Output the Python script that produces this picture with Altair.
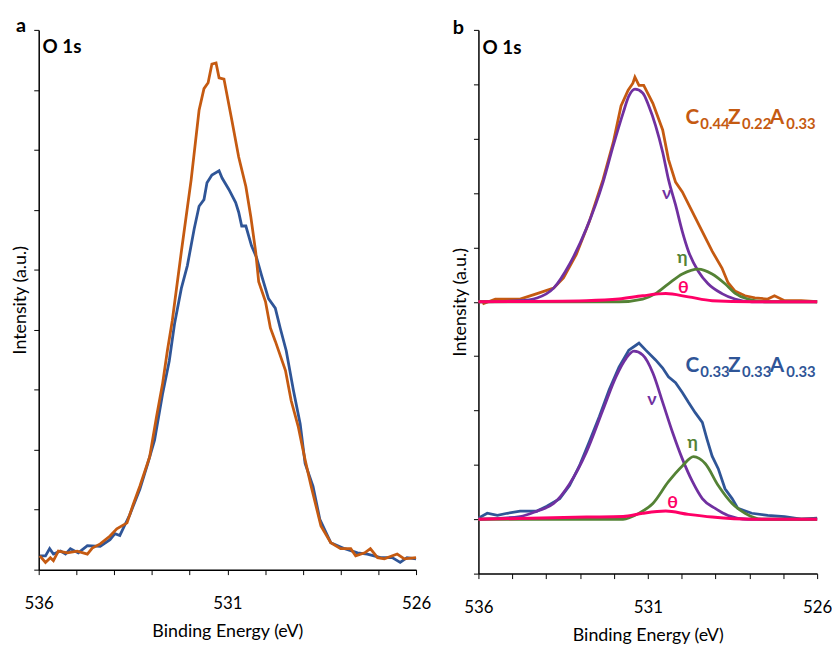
import altair as alt
import pandas as pd

# ---------------- data ----------------
# Panel a
a_orange_E = [535.97, 535.82, 535.69, 535.61, 535.48, 535.24, 534.98, 534.71, 534.58, 534.37, 534.11, 533.93, 533.66,
              533.51, 533.32, 533.06, 532.88, 532.72, 532.59, 532.46, 532.22, 531.96, 531.75, 531.62, 531.51, 531.41,
              531.30, 531.22, 531.09, 530.88, 530.70, 530.51, 530.38, 530.25, 530.17, 529.99, 529.86, 529.73, 529.46,
              529.31, 529.12, 528.94, 528.78, 528.52, 528.26, 528.0, 527.73, 527.60, 527.36, 527.21, 527.02, 526.84,
              526.5, 526.31, 526.0]
a_orange_I = [0.23, 0.12, 0.20, 0.15, 0.31, 0.28, 0.31, 0.26, 0.36, 0.43, 0.56, 0.68, 0.78,
              1.06, 1.39, 1.88, 2.54, 3.09, 3.65, 4.15, 5.30, 6.50, 7.66, 8.02, 8.12, 8.43,
              8.45, 8.20, 8.18, 7.49, 6.88, 6.39, 5.89, 5.30, 4.80, 4.47, 4.03, 3.81, 3.32,
              2.82, 2.38, 1.83, 1.39, 0.73, 0.45, 0.35, 0.35, 0.23, 0.28, 0.35, 0.20, 0.18,
              0.26, 0.18, 0.20]

a_blue_E = [535.97, 535.82, 535.71, 535.61, 535.42, 535.29, 535.16, 534.95, 534.71, 534.37, 534.11, 533.98, 533.85,
            533.72, 533.59, 533.32, 533.11, 532.93, 532.72, 532.54, 532.40, 532.22, 532.06, 531.88, 531.75, 531.62,
            531.54, 531.41, 531.22, 531.14, 530.96, 530.78, 530.70, 530.62, 530.51, 530.36, 530.23, 530.09, 529.91,
            529.73, 529.60, 529.44, 529.25, 529.07, 528.94, 528.73, 528.55, 528.26, 527.89, 527.55, 527.29, 526.94,
            526.63, 526.42, 526.24, 526.0]
a_blue_I = [0.23, 0.23, 0.35, 0.26, 0.31, 0.26, 0.35, 0.28, 0.40, 0.39, 0.50, 0.60, 0.57,
            0.74, 0.91, 1.34, 1.77, 2.16, 2.92, 3.48, 4.10, 4.69, 5.07, 5.68, 6.06, 6.17,
            6.45, 6.58, 6.65, 6.53, 6.34, 6.12, 5.96, 5.73, 5.73, 5.40, 5.21, 4.90, 4.52,
            4.36, 4.03, 3.65, 2.99, 2.43, 1.77, 1.39, 0.84, 0.45, 0.35, 0.28, 0.26, 0.20,
            0.20, 0.12, 0.20, 0.18]

# Panel b, upper spectrum (C0.44Z0.22A0.33)
b_orange_E = [535.88, 535.50, 534.77, 534.27, 533.78, 533.49, 533.11, 532.73, 532.32, 532.02, 531.79, 531.58,
              531.44, 531.38, 531.26, 531.12, 530.85, 530.56, 530.39, 530.18, 529.98, 529.68, 529.39, 529.10,
              528.81, 528.63, 528.43, 528.13, 527.84, 527.46, 527.26, 526.96, 526.47, 526.0]
b_orange_I = [4.96, 5.05, 5.05, 5.15, 5.25, 5.44, 5.87, 6.47, 7.25, 7.93, 8.60, 8.89,
              9.02, 9.13, 8.98, 8.98, 8.65, 8.16, 7.62, 7.20, 7.02, 6.65, 6.29, 5.93,
              5.62, 5.35, 5.20, 5.11, 5.07, 5.05, 5.11, 5.02, 5.02, 5.0]
top_v_E = [536.0, 534.77, 534.27, 533.78, 533.31, 532.81, 532.32, 532.02, 531.73, 531.56, 531.38, 531.15, 530.97,
           530.77, 530.56, 530.39, 530.18, 529.98, 529.80, 529.51, 529.22, 528.81, 528.43, 527.93, 526.0]
top_v_I = [5.0, 5.02, 5.07, 5.25, 5.69, 6.35, 7.20, 7.87, 8.47, 8.78, 8.91, 8.84, 8.60,
           8.24, 7.75, 7.25, 6.78, 6.29, 5.93, 5.56, 5.33, 5.15, 5.05, 5.0, 5.0]
top_eta_E = [536.0, 531.85, 531.15, 530.77, 530.39, 529.98, 529.51, 529.10, 528.72, 528.43, 528.05, 527.46, 526.0]
top_eta_I = [5.0, 5.0, 5.05, 5.15, 5.33, 5.51, 5.60, 5.51, 5.33, 5.16, 5.05, 5.0, 5.0]
top_theta_E = [536.0, 532.81, 531.85, 531.15, 530.47, 529.80, 529.10, 527.93, 526.0]
top_theta_I = [5.0, 5.02, 5.05, 5.11, 5.15, 5.09, 5.02, 5.0, 5.0]

# Panel b, lower spectrum (C0.33Z0.33A0.33)
b_blue_E = [536.0, 535.74, 535.44, 535.15, 534.77, 534.27, 533.98, 533.60, 533.31, 533.02, 532.73, 532.43,
            532.14, 531.85, 531.56, 531.35, 531.26, 531.06, 530.77, 530.56, 530.39, 530.18, 529.98, 529.80,
            529.60, 529.39, 529.25, 529.10, 528.92, 528.72, 528.51, 528.34, 527.93, 527.46, 526.96, 526.47, 526.0]
b_blue_I = [1.02, 1.11, 1.07, 1.11, 1.15, 1.15, 1.24, 1.38, 1.62, 1.98, 2.42, 2.89,
            3.38, 3.80, 4.11, 4.20, 4.24, 4.11, 3.93, 3.78, 3.62, 3.51, 3.33, 3.15,
            2.96, 2.78, 2.47, 2.16, 1.93, 1.56, 1.38, 1.20, 1.11, 1.07, 1.05, 1.0, 1.02]
bot_v_E = [536.0, 534.77, 534.27, 533.78, 533.31, 532.81, 532.32, 531.94, 531.64, 531.41, 531.15, 530.85, 530.56,
           530.27, 529.98, 529.68, 529.39, 529.01, 528.63, 528.05, 526.0]
bot_v_I = [1.0, 1.05, 1.15, 1.29, 1.65, 2.24, 3.02, 3.62, 3.96, 4.09, 4.02, 3.69, 3.15,
           2.60, 2.11, 1.69, 1.38, 1.20, 1.07, 1.0, 1.0]
bot_eta_E = [536.0, 531.73, 531.26, 530.85, 530.39, 529.98, 529.65, 529.30, 528.92, 528.51, 528.13, 527.64, 526.0]
bot_eta_I = [1.0, 1.0, 1.11, 1.29, 1.69, 1.98, 2.15, 2.02, 1.62, 1.29, 1.11, 1.0, 1.0]
bot_theta_E = [536.0, 532.81, 531.73, 531.15, 530.47, 529.80, 529.10, 527.93, 526.0]
bot_theta_I = [1.0, 1.04, 1.05, 1.11, 1.15, 1.09, 1.04, 1.0, 1.0]

# annotation text
comp_top_parts = ["C", "0.44", "Z", "0.22", "A", "0.33"]
comp_bot_parts = ["C", "0.33", "Z", "0.33", "A", "0.33"]
comp_part_E = [529.89, 529.45, 528.63, 528.22, 527.40, 526.91]
comp_part_size = [21, 15, 21, 15, 21, 15]
comp_top_base = [8.27, 8.18, 8.27, 8.18, 8.27, 8.18]
comp_bot_base = [3.71, 3.62, 3.71, 3.62, 3.71, 3.62]

greek_text = ["ν", "η", "θ", "ν", "η", "θ"]
greek_E = [530.44, 529.98, 529.95, 530.88, 529.68, 530.27]
greek_I = [6.89, 5.71, 5.16, 3.11, 2.31, 1.20]

ORANGE = "#C55A11"
BLUE = "#2F5597"
PURPLE = "#7030A0"
GREEN = "#548235"
PINK = "#FF0066"
FONT = "Lato"

# ---------------- helpers ----------------
xscale = alt.Scale(domain=[526, 536], reverse=True, nice=False, zero=False)


def xaxis():
    return alt.Axis(values=list(range(526, 537)),
                    labelExpr="datum.value % 5 == 1 ? datum.label : ''",
                    labelFlush=False, labelOverlap=False, grid=False,
                    tickSize=5, tickColor="black", domainColor="black", domainWidth=1.5,
                    labelFontSize=17, labelPadding=21, labelColor="black", labelFont=FONT,
                    title="Binding Energy (eV)", titleFontSize=18, titleFontWeight="normal",
                    titleFont=FONT, titleColor="black", titlePadding=12)


def yaxis(n):
    return alt.Axis(values=list(range(0, n + 1)), labels=False, grid=False,
                    tickSize=5, tickColor="black", domainColor="black", domainWidth=1.5,
                    title="Intensity (a.u.)", titleFontSize=18, titleFontWeight="normal",
                    titleFont=FONT, titleColor="black", titlePadding=4)


def line(E, I, color, yscale, n, width=2.8, interp="linear"):
    df = pd.DataFrame({"E": E, "I": I})
    return alt.Chart(df).mark_line(color=color, strokeWidth=width, interpolate=interp).encode(
        x=alt.X("E:Q", scale=xscale, axis=xaxis(), sort=None),
        y=alt.Y("I:Q", scale=yscale, axis=yaxis(n)),
    )


def texts(E, I, t, size, color, yscale, n, weight="bold", align="left"):
    df = pd.DataFrame({"E": E, "I": I, "t": t, "s": size})
    return alt.Chart(df).mark_text(align=align, baseline="alphabetic", font=FONT,
                                   fontWeight=weight, color=color).encode(
        x=alt.X("E:Q", scale=xscale, axis=xaxis()),
        y=alt.Y("I:Q", scale=yscale, axis=yaxis(n)),
        text="t:N",
        size=alt.Size("s:Q", scale=None, legend=None),
    )


# ---------------- panel a ----------------
ya = alt.Scale(domain=[0, 9], nice=False, zero=False)
panel_a = alt.layer(
    line(a_blue_E, a_blue_I, BLUE, ya, 9),
    line(a_orange_E, a_orange_I, ORANGE, ya, 9),
    texts([535.9], [8.61], ["O 1s"], [19], "black", ya, 9),
    texts([536.6], [8.96], ["a"], [20], "black", ya, 9),
).properties(width=381, height=545)

# ---------------- panel b ----------------
yb = alt.Scale(domain=[0, 10], nice=False, zero=False)
greek_color = alt.Color("t:N", scale=alt.Scale(domain=["ν", "η", "θ"], range=[PURPLE, GREEN, PINK]), legend=None)
panel_b = alt.layer(
    line(b_orange_E, b_orange_I, ORANGE, yb, 10),
    line(top_v_E, top_v_I, PURPLE, yb, 10, interp="monotone"),
    line(top_eta_E, top_eta_I, GREEN, yb, 10, interp="monotone"),
    line(b_blue_E, b_blue_I, BLUE, yb, 10),
    line(bot_v_E, bot_v_I, PURPLE, yb, 10, interp="monotone"),
    line(bot_eta_E, bot_eta_I, GREEN, yb, 10, interp="monotone"),
    line(top_theta_E, top_theta_I, PINK, yb, 10, width=3, interp="monotone"),
    line(bot_theta_E, bot_theta_I, PINK, yb, 10, width=3, interp="monotone"),
    texts(comp_part_E, comp_top_base, comp_top_parts, comp_part_size, ORANGE, yb, 10),
    texts(comp_part_E, comp_bot_base, comp_bot_parts, comp_part_size, BLUE, yb, 10),
    texts(greek_E[:3], greek_I[:3], greek_text[:3], [18, 18, 18], "black", yb, 10, align="center").encode(
        color=greek_color),
    texts(greek_E[3:], greek_I[3:], greek_text[3:], [18, 18, 18], "black", yb, 10, align="center").encode(
        color=greek_color),
    texts([535.88], [9.56], ["O 1s"], [19], "black", yb, 10),
    texts([536.76], [9.93], ["b"], [20], "black", yb, 10),
).properties(width=342, height=549)

chart = alt.hconcat(panel_a, panel_b, spacing=20).configure_view(stroke=None).properties(
    padding={"left": 3, "top": 5, "right": 0, "bottom": 0}
)

chart.save("out.html", embed_options={"renderer": "svg", "actions": False})
